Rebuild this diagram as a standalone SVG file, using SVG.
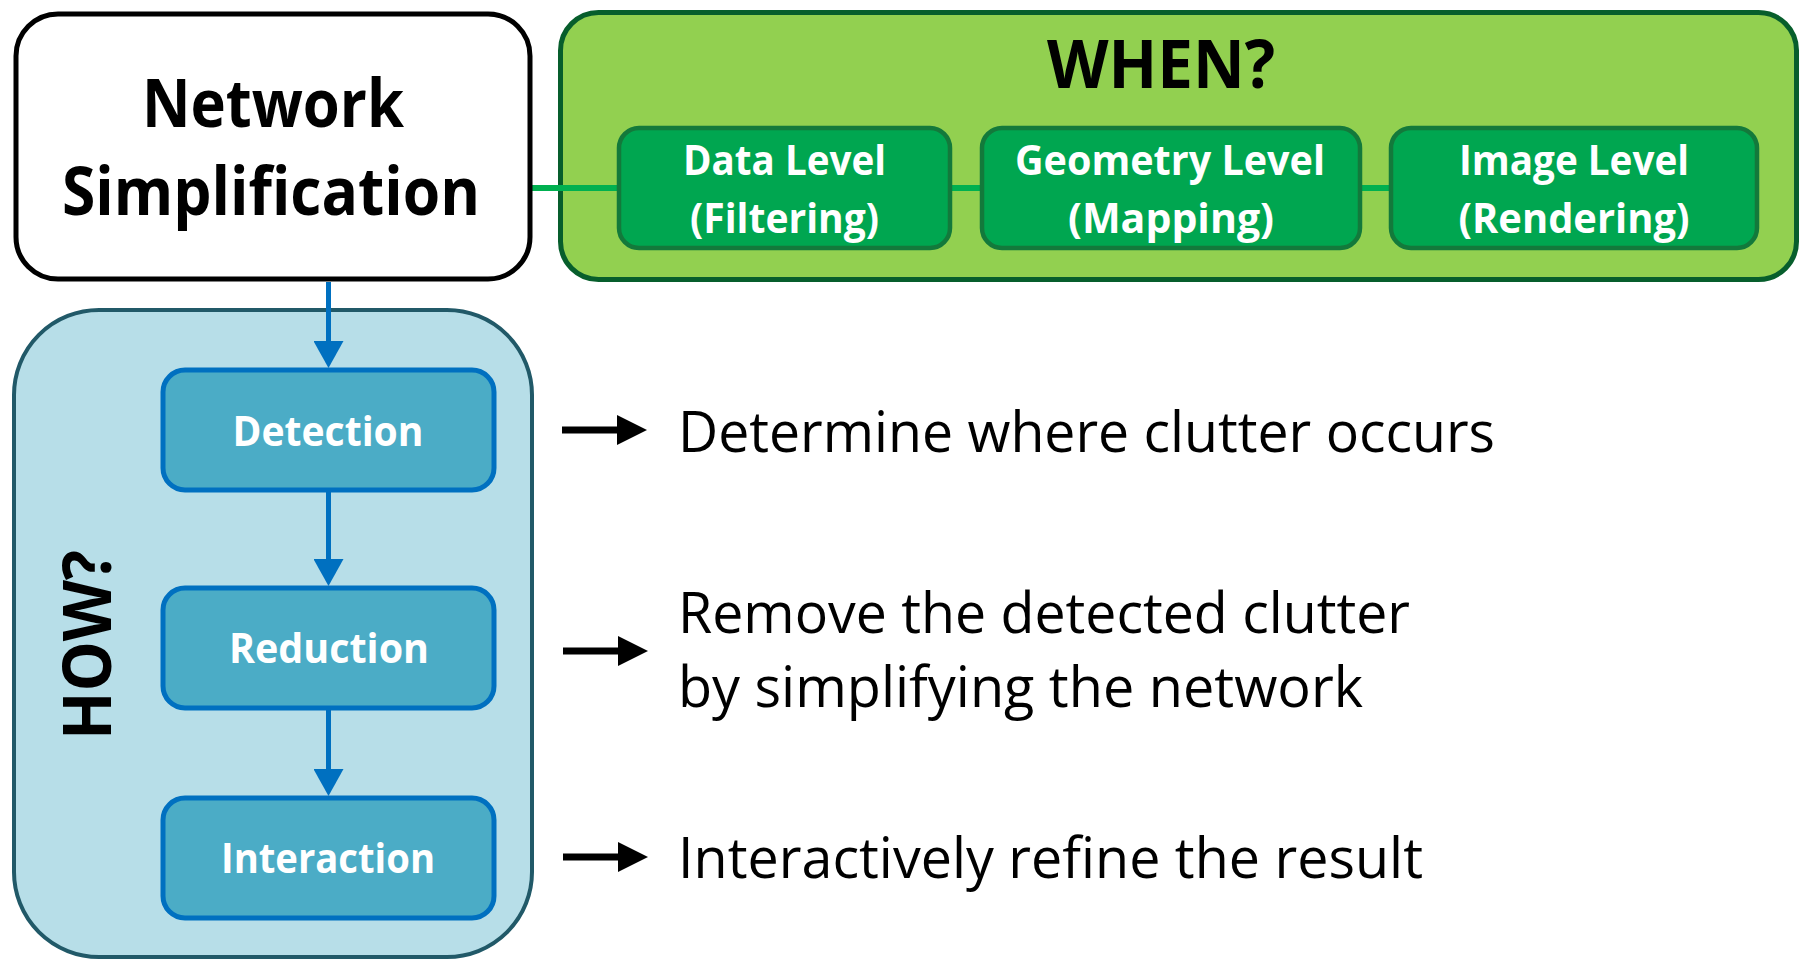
<svg xmlns="http://www.w3.org/2000/svg" width="1804" height="960" viewBox="0 0 1804 960">
  <defs>
    <style>
      .title { font-family: "Open Sans", "Liberation Sans", sans-serif; font-weight: 700; font-size: 66px; fill: #000; }
      .lbl { font-family: "Open Sans", "Liberation Sans", sans-serif; font-weight: 700; font-size: 42px; fill: #fff; }
      .desc { font-family: "Open Sans", "Liberation Sans", sans-serif; font-weight: 400; font-size: 56px; fill: #000; }
      .gbox { fill: #00a650; stroke: #13793b; stroke-width: 4.5; }
      .bbox { fill: #4bacc6; stroke: #0070c0; stroke-width: 5; }
      .gline { stroke: #00b050; stroke-width: 6; fill: none; }
      .bline { stroke: #0070c0; stroke-width: 5; fill: none; }
      .kline { stroke: #000; stroke-width: 7; fill: none; }
    </style>
    <marker id="blueHead" markerUnits="userSpaceOnUse" markerWidth="28" markerHeight="30" refX="17" refY="15" orient="auto">
      <path d="M0,0 L27,15 L0,30 Z" fill="#0070c0"/>
    </marker>
    <marker id="blackHead" markerUnits="userSpaceOnUse" markerWidth="31" markerHeight="31" refX="20" refY="15" orient="auto">
      <path d="M0,0 L30,15 L0,30 Z" fill="#000"/>
    </marker>
  </defs>

  <g id="how-container">
    <rect x="14" y="310" width="518" height="647" rx="85" ry="85" fill="#b7dee8" stroke="#215968" stroke-width="4"/>
    <text class="title" transform="translate(111,645) rotate(-90)" text-anchor="middle" textLength="190" lengthAdjust="spacingAndGlyphs">HOW?</text>
  </g>

  <g id="when-container">
    <rect x="560.5" y="12.5" width="1236" height="267" rx="38" ry="38" fill="#92d050" stroke="#075e2c" stroke-width="5"/>
    <text class="title" x="1161" y="88" text-anchor="middle" textLength="228" lengthAdjust="spacingAndGlyphs">WHEN?</text>
  </g>

  <g id="connectors">
    <line class="gline" x1="532" y1="188" x2="619" y2="188"/>
    <line class="gline" x1="952" y1="188" x2="982" y2="188"/>
    <line class="gline" x1="1362" y1="188" x2="1391" y2="188"/>
    <line class="bline" x1="328.5" y1="282" x2="328.5" y2="358" marker-end="url(#blueHead)"/>
    <line class="bline" x1="328.5" y1="492" x2="328.5" y2="576" marker-end="url(#blueHead)"/>
    <line class="bline" x1="328.5" y1="710" x2="328.5" y2="786" marker-end="url(#blueHead)"/>
    <line class="kline" x1="562" y1="430" x2="637" y2="430" marker-end="url(#blackHead)"/>
    <line class="kline" x1="563" y1="651" x2="638" y2="651" marker-end="url(#blackHead)"/>
    <line class="kline" x1="563" y1="857" x2="638" y2="857" marker-end="url(#blackHead)"/>
  </g>

  <g id="network-simplification">
    <rect x="16" y="14" width="514" height="265" rx="42" ry="42" fill="#fff" stroke="#000" stroke-width="5"/>
    <text class="title" x="273" y="127" text-anchor="middle" textLength="262" lengthAdjust="spacingAndGlyphs">Network</text>
    <text class="title" x="271" y="215" text-anchor="middle" textLength="418" lengthAdjust="spacingAndGlyphs">Simplification</text>
  </g>

  <g id="data-level">
    <rect class="gbox" x="619" y="128" width="331" height="120" rx="20" ry="20"/>
    <text class="lbl" x="784.5" y="175" text-anchor="middle" textLength="203" lengthAdjust="spacingAndGlyphs">Data Level</text>
    <text class="lbl" x="784.5" y="233" text-anchor="middle" textLength="189" lengthAdjust="spacingAndGlyphs">(Filtering)</text>
  </g>

  <g id="geometry-level">
    <rect class="gbox" x="982" y="128" width="378" height="120" rx="20" ry="20"/>
    <text class="lbl" x="1170" y="175" text-anchor="middle" textLength="310" lengthAdjust="spacingAndGlyphs">Geometry Level</text>
    <text class="lbl" x="1171" y="233" text-anchor="middle" textLength="206" lengthAdjust="spacingAndGlyphs">(Mapping)</text>
  </g>

  <g id="image-level">
    <rect class="gbox" x="1391" y="128" width="366" height="120" rx="20" ry="20"/>
    <text class="lbl" x="1574" y="175" text-anchor="middle" textLength="230" lengthAdjust="spacingAndGlyphs">Image Level</text>
    <text class="lbl" x="1574" y="233" text-anchor="middle" textLength="231" lengthAdjust="spacingAndGlyphs">(Rendering)</text>
  </g>

  <g id="detection">
    <rect class="bbox" x="163" y="370" width="331" height="120" rx="22" ry="22"/>
    <text class="lbl" x="328" y="446" text-anchor="middle" textLength="191" lengthAdjust="spacingAndGlyphs">Detection</text>
  </g>

  <g id="reduction">
    <rect class="bbox" x="163" y="588" width="331" height="120" rx="22" ry="22"/>
    <text class="lbl" x="329" y="663" text-anchor="middle" textLength="200" lengthAdjust="spacingAndGlyphs">Reduction</text>
  </g>

  <g id="interaction">
    <rect class="bbox" x="163" y="798" width="331" height="120" rx="22" ry="22"/>
    <text class="lbl" x="328" y="873" text-anchor="middle" textLength="214" lengthAdjust="spacingAndGlyphs">Interaction</text>
  </g>

  <g id="desc-detection">
    <text class="desc" x="678" y="452" textLength="817" lengthAdjust="spacingAndGlyphs">Determine where clutter occurs</text>
  </g>

  <g id="desc-reduction">
    <text class="desc" x="678" y="633" textLength="732" lengthAdjust="spacingAndGlyphs">Remove the detected clutter</text>
    <text class="desc" x="678" y="707" textLength="685" lengthAdjust="spacingAndGlyphs">by simplifying the network</text>
  </g>

  <g id="desc-interaction">
    <text class="desc" x="678" y="878" textLength="745" lengthAdjust="spacingAndGlyphs">Interactively refine the result</text>
  </g>
</svg>
